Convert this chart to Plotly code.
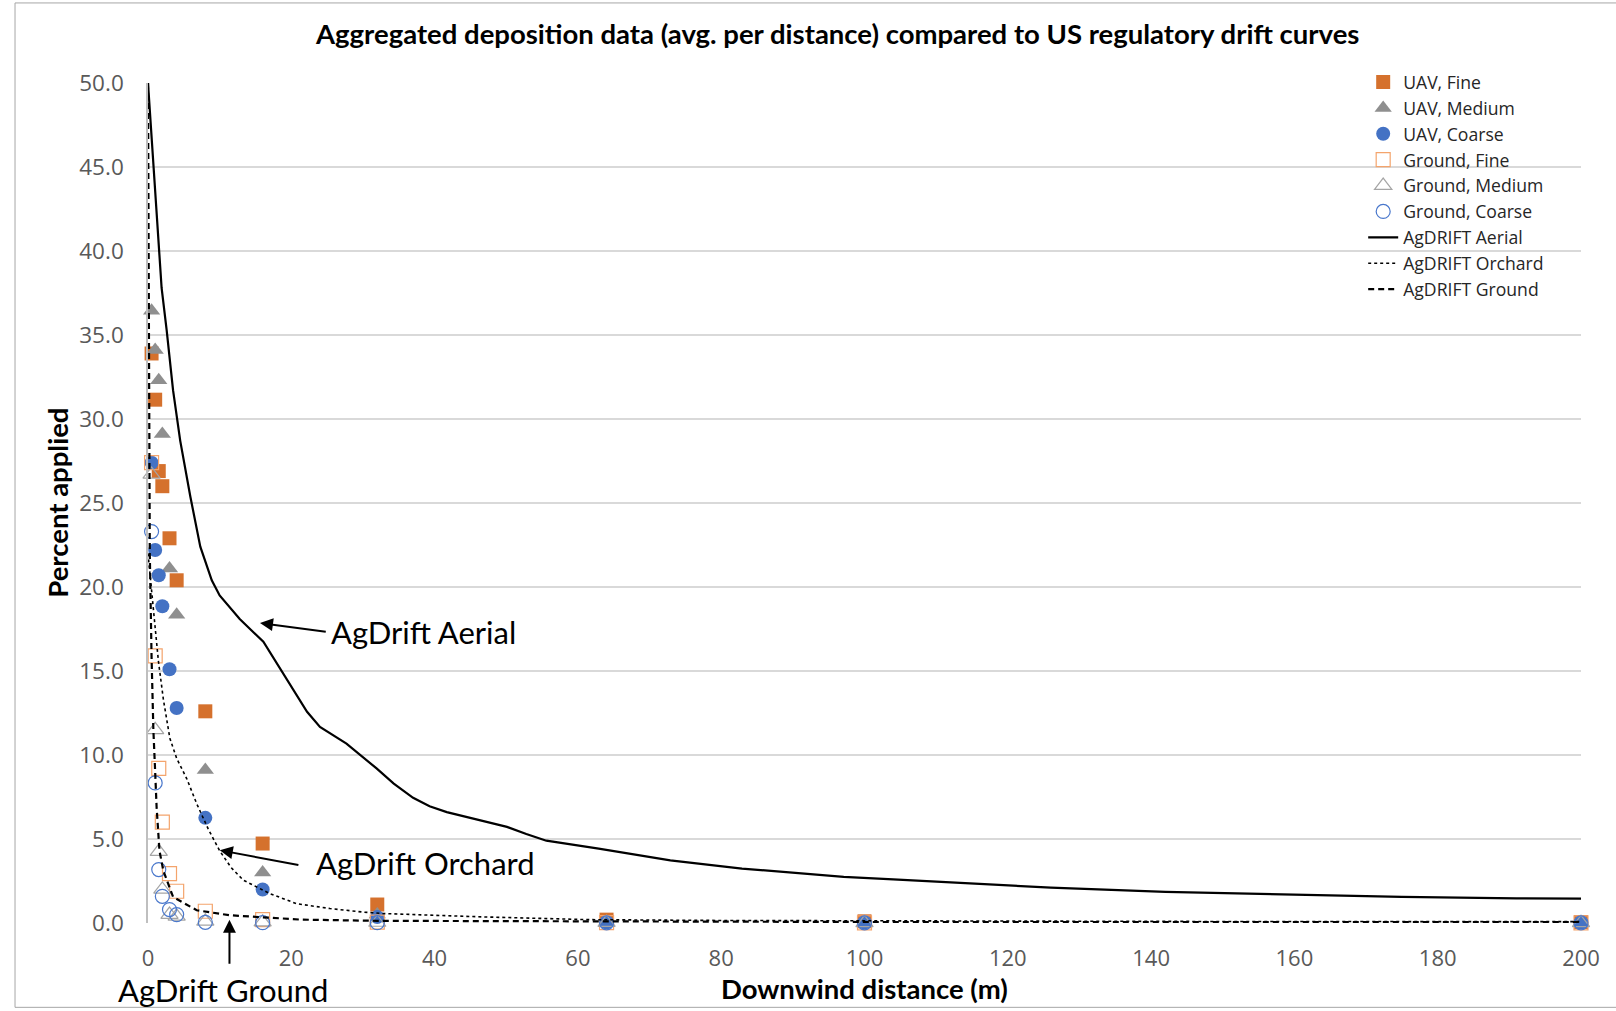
import plotly.graph_objects as go

# ---------------- data ----------------
distances = [0.5, 1, 1.5, 2, 3, 4, 8, 16, 32, 64, 100, 200]

uav_fine = [33.9, 31.15, 26.9, 26.0, 22.9, 20.4, 12.6, 4.73, 1.1, 0.2, 0.1, 0.05]
uav_medium = [36.45, 34.1, 32.3, 29.1, 21.1, 18.35, 9.1, 3.0, 0.5, 0.05, 0.03, 0.02]
uav_coarse = [27.4, 22.2, 20.7, 18.85, 15.1, 12.8, 6.26, 1.99, 0.35, 0.03, 0.02, 0.01]
ground_fine = [27.4, 15.9, 9.2, 6.0, 2.94, 1.89, 0.7, 0.2, 0.05, 0.02, 0.01, 0.01]
ground_medium = [26.7, 11.5, 4.25, 2.0, 0.5, 0.4, 0.1, 0.05, 0.03, 0.02, 0.01, 0.01]
ground_coarse = [23.3, 8.34, 3.18, 1.59, 0.8, 0.5, 0.04, 0.02, 0.02, 0.01, 0.01, 0.01]

aerial_x = [0, 1.9, 2.6, 3.5, 4.5, 5.9, 7.3, 8.9, 10.0, 12.8, 16.1, 22.2, 24.0, 27.7,
            31.9, 34.3, 37.0, 39.3, 41.7, 45.5, 50.1, 52.8, 55.6, 62.9, 72.9, 82.9, 97.1,
            104, 116, 126, 142, 158.5, 175, 191, 200]
aerial_y = [50, 37.8, 35.3, 31.7, 28.7, 25.4, 22.4, 20.4, 19.5, 18.1, 16.74, 12.57, 11.67,
            10.68, 9.2, 8.3, 7.45, 6.95, 6.6, 6.2, 5.72, 5.3, 4.9, 4.43, 3.73, 3.24, 2.74,
            2.6, 2.35, 2.1, 1.85, 1.69, 1.55, 1.47, 1.45]

orchard_x = [0, 0.75, 1.45, 2.15, 3.05, 4.0, 5.4, 6.8, 8.4, 10.0, 11.6, 13.3, 17.0, 20.75,
             25.4, 30.0, 33, 47, 61.4, 80, 100, 150, 200]
orchard_y = [22, 18.6, 15.6, 13.3, 11.0, 9.8, 8.6, 7.1, 5.6, 4.3, 3.3, 2.55, 1.75, 1.15,
             0.86, 0.65, 0.56, 0.36, 0.2, 0.15, 0.12, 0.09, 0.08]

ground_x = [0, 0.15, 0.25, 0.5, 0.75, 1.0, 1.2, 1.6, 2.15, 3.5, 6.8, 11.4, 16, 21.4, 32,
            64, 100, 200]
ground_y = [50, 35, 22, 15.8, 11.5, 9.0, 6.9, 4.3, 3.1, 1.55, 0.76, 0.46, 0.36, 0.2, 0.13,
            0.08, 0.06, 0.05]

y_ticks = [0, 5, 10, 15, 20, 25, 30, 35, 40, 45, 50]
x_ticks = [0, 20, 40, 60, 80, 100, 120, 140, 160, 180, 200]

# ---------------- styling ----------------
ORANGE = "#D5712D"
GRAY = "#8F8F8F"
BLUE = "#4472C4"
ORANGE_LIGHT = "#F4A46C"
GRAY_LIGHT = "#A5A5A5"
BLUE_OPEN = "#4A78CC"

X_TICK_FONT = dict(family="Open Sans", size=22, color="#595959")
Y_TICK_FONT = dict(family="Open Sans", size=22.5, color="#595959")

fig = go.Figure()

def add_markers(name, y, symbol, color, size, line_width=0):
    fig.add_trace(go.Scatter(
        x=distances, y=y, mode="markers", name=name, cliponaxis=False,
        marker=dict(symbol=symbol, color=color, size=size,
                    line=dict(width=line_width, color=color)),
    ))

add_markers("UAV, Fine", uav_fine, "square", ORANGE, 14)
add_markers("UAV, Medium", uav_medium, "triangle-up", GRAY, 15)
add_markers("UAV, Coarse", uav_coarse, "circle", BLUE, 14)
add_markers("Ground, Fine", ground_fine, "square-open", ORANGE_LIGHT, 14, 1.2)
add_markers("Ground, Medium", ground_medium, "triangle-up-open", GRAY_LIGHT, 15, 1.2)
add_markers("Ground, Coarse", ground_coarse, "circle-open", BLUE_OPEN, 14, 1.2)

fig.add_trace(go.Scatter(x=aerial_x, y=aerial_y, mode="lines", name="AgDRIFT Aerial",
                         line=dict(color="black", width=2.2), cliponaxis=False))
fig.add_trace(go.Scatter(x=orchard_x, y=orchard_y, mode="lines", name="AgDRIFT Orchard",
                         line=dict(color="black", width=1.6, dash="dot"), cliponaxis=False))
fig.add_trace(go.Scatter(x=ground_x, y=ground_y, mode="lines", name="AgDRIFT Ground",
                         line=dict(color="black", width=2.2, dash="6px,4px"), cliponaxis=False))

# ---------------- annotations ----------------
ANN_FONT = dict(family="Lato", size=31, color="black")
arrow_common = dict(showarrow=True, arrowhead=2, arrowsize=1.3, arrowwidth=2,
                    arrowcolor="black", axref="x", ayref="y", text="")

fig.add_annotation(x=15.63, y=17.86, ax=25.02, ay=17.33, **arrow_common)
fig.add_annotation(x=25.3, y=17.3, text="AgDrift Aerial", showarrow=False,
                   xanchor="left", yanchor="middle", font=ANN_FONT)

fig.add_annotation(x=10.02, y=4.33, ax=21.2, ay=3.44, **arrow_common)
fig.add_annotation(x=23.1, y=3.55, text="AgDrift Orchard", showarrow=False,
                   xanchor="left", yanchor="middle", font=ANN_FONT)

fig.add_annotation(x=11.37, y=0.2, ax=11.37, ay=-2.52, **arrow_common)
fig.add_annotation(xref="paper", yref="paper", x=0.0523, y=-0.0795,
                   text="AgDrift Ground", showarrow=False,
                   xanchor="center", yanchor="middle", font=ANN_FONT)

# title & axis titles
fig.add_annotation(xref="paper", yref="paper", x=0.481, y=1.0589,
                   text="<b>Aggregated deposition data (avg. per distance) compared to US regulatory drift curves</b>",
                   showarrow=False, xanchor="center", yanchor="middle",
                   font=dict(family="Lato", size=27.5, color="black"))
fig.add_annotation(xref="paper", yref="paper", x=-0.0637, y=0.5,
                   text="<b>Percent applied</b>", textangle=-90,
                   showarrow=False, xanchor="center", yanchor="middle",
                   font=dict(family="Lato", size=27.5, color="black"))
fig.add_annotation(xref="paper", yref="paper", x=0.5, y=-0.078,
                   text="<b>Downwind distance (m)</b>",
                   showarrow=False, xanchor="center", yanchor="middle",
                   font=dict(family="Lato", size=27.5, color="black"))

# chart-area frame (left, top, bottom edges)
frame = dict(type="line", xref="paper", yref="paper", line=dict(color="#A6A6A6", width=1))
fig.add_shape(x0=-0.0928, x1=-0.0928, y0=-0.1004, y1=1.0953, **frame)
fig.add_shape(x0=-0.0928, x1=1.05, y0=1.0953, y1=1.0953, **frame)
fig.add_shape(x0=-0.0928, x1=1.05, y0=-0.1004, y1=-0.1004, **frame)

fig.update_layout(
    width=1616, height=1011,
    margin=dict(l=148, r=35, t=83, b=88),
    paper_bgcolor="white", plot_bgcolor="white",
    showlegend=True,
    legend=dict(x=0.848, y=1.0225, xanchor="left", yanchor="top",
                font=dict(family="Open Sans", size=17.6, color="#262626"),
                bgcolor="rgba(0,0,0,0)", tracegroupgap=0, itemwidth=30),
    xaxis=dict(range=[0, 200], tickvals=x_ticks, ticktext=[str(v) for v in x_ticks],
               showgrid=False, zeroline=False, showline=False,
               ticks="", tickfont=X_TICK_FONT, ticklabelstandoff=20),
    yaxis=dict(range=[0, 50], tickvals=y_ticks, ticktext=[f"{v:.1f}" for v in y_ticks],
               showgrid=True, gridcolor="#D9D9D9", gridwidth=1.5,
               zeroline=False, showline=True, linecolor="#BFBFBF", linewidth=1.5,
               ticks="", tickfont=Y_TICK_FONT, ticklabelstandoff=18),
)

fig.write_html("out.html")
